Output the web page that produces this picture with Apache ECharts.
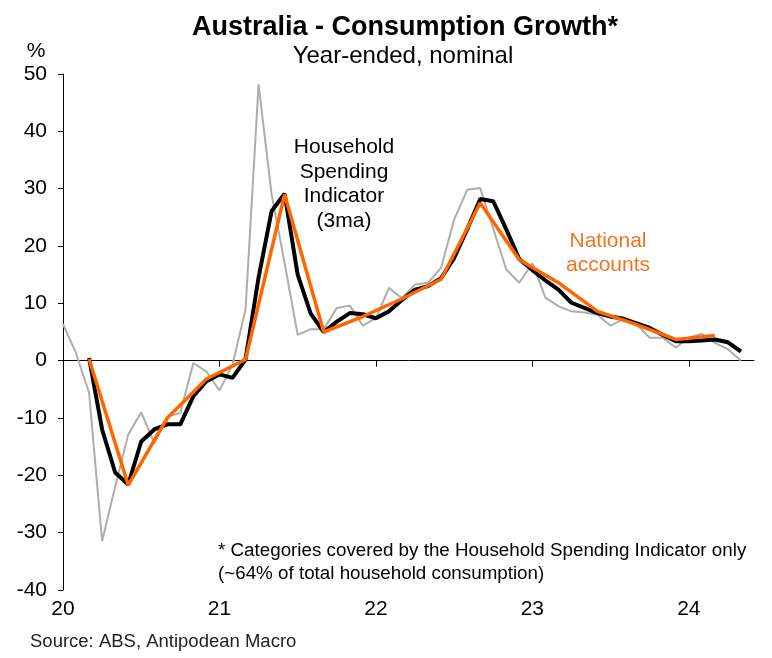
<!DOCTYPE html>
<html>
<head>
<meta charset="utf-8">
<script src="https://cdn.jsdelivr.net/npm/echarts@6/dist/echarts.min.js"></script>
<style>
html,body{margin:0;padding:0;background:#fff;}
#c{width:772px;height:658px;}
</style>
</head>
<body>
<div id="c"></div>
<script>
// Months Jan-2020 .. May-2024 (index 0 = Jan 2020)
var months = ['Jan20','Feb20','Mar20','Apr20','May20','Jun20','Jul20','Aug20','Sep20','Oct20','Nov20','Dec20',
  'Jan21','Feb21','Mar21','Apr21','May21','Jun21','Jul21','Aug21','Sep21','Oct21','Nov21','Dec21',
  'Jan22','Feb22','Mar22','Apr22','May22','Jun22','Jul22','Aug22','Sep22','Oct22','Nov22','Dec22',
  'Jan23','Feb23','Mar23','Apr23','May23','Jun23','Jul23','Aug23','Sep23','Oct23','Nov23','Dec23',
  'Jan24','Feb24','Mar24','Apr24','May24'];

// Household Spending Indicator, monthly (grey)
var hsiMonthly = [6.4,1.3,-5.6,-31.5,-22.0,-12.9,-9.0,-14.4,-9.8,-9.1,-0.4,-1.9,
  -5.2,-0.7,8.9,48.2,29.0,17.0,4.5,5.5,5.5,9.2,9.6,6.1,
  7.4,12.7,10.9,13.3,13.6,16.2,24.6,29.8,30.1,23.0,15.9,13.6,
  17.0,11.0,9.5,8.6,8.4,8.0,6.1,7.3,6.3,4.0,4.0,2.3,
  4.0,4.7,3.1,2.0,0.0];

// Household Spending Indicator, 3-month average (black)
var hsi3ma = [null,null,0.5,-12.0,-19.5,-21.6,-14.1,-12.0,-11.1,-11.1,-6.2,-3.6,
  -2.4,-3.0,0.2,14.5,26.1,29.1,15.0,8.2,5.0,6.8,8.3,8.1,
  7.4,8.6,10.6,12.4,13.0,14.4,17.9,22.9,28.2,27.8,22.9,17.7,
  15.8,14.0,12.4,10.1,9.2,8.3,7.7,7.3,6.5,5.7,4.5,3.4,
  3.4,3.5,3.7,3.2,1.6];

// National accounts, quarterly (orange) - placed at quarter-end months
var nationalAccounts = [null,null,0.3,null,null,-21.7,null,null,-10.0,null,null,-3.2,
  null,null,0.2,null,null,29.0,null,null,5.0,null,null,7.7,
  null,null,10.8,null,null,14.2,null,null,27.5,null,null,17.6,
  null,null,13.6,null,null,8.6,null,null,6.3,null,null,3.7,
  null,null,4.4,null,null];

var xTickValues = [0,12,24,36,48];
var xTickLabels = ['20','21','22','23','24'];

function pairs(arr){ return arr.map(function(v,i){ return [i, v]; }); }

var FONT = '"Liberation Sans", Arial, sans-serif';
var chart = echarts.init(document.getElementById('c'), null, {renderer:'canvas'});
chart.setOption({
  animation:false,
  backgroundColor:'#fff',
  textStyle:{fontFamily:FONT},
  grid:{left:63,right:18,top:74,bottom:68,containLabel:false},
  xAxis:[{
    type:'value', min:0, max:53, interval:12,
    axisLine:{onZero:true, lineStyle:{color:'#000',width:1}},
    axisTick:{show:true, length:6, customValues:xTickValues, lineStyle:{color:'#000'}},
    axisLabel:{show:false},
    splitLine:{show:false}
  },{
    type:'value', min:0, max:53, interval:12, position:'bottom',
    axisLine:{show:false, onZero:false},
    axisTick:{show:false},
    axisLabel:{show:true, customValues:xTickValues, margin:9, fontSize:21, color:'#000', fontFamily:FONT,
      formatter:function(v){ var k = xTickValues.indexOf(v); return k>=0 ? xTickLabels[k] : ''; }},
    splitLine:{show:false}
  }],
  yAxis:{
    type:'value', min:-40, max:50, interval:10,
    axisLine:{show:true, lineStyle:{color:'#000',width:1}},
    axisTick:{show:true, length:5, lineStyle:{color:'#000'}},
    axisLabel:{fontSize:21, color:'#000', margin:16, fontFamily:FONT},
    splitLine:{show:false}
  },
  series:[{
    name:'HSI monthly', type:'line', xAxisIndex:0, data:pairs(hsiMonthly),
    symbol:'none', lineStyle:{color:'#adadad', width:2}, z:2
  },{
    name:'HSI 3ma', type:'line', xAxisIndex:0, data:pairs(hsi3ma),
    symbol:'none', lineStyle:{color:'#000', width:4}, z:3
  },{
    name:'National accounts', type:'line', xAxisIndex:0, data:pairs(nationalAccounts), connectNulls:true,
    symbol:'none', lineStyle:{color:'#ff6600', width:3.5}, z:4
  }],
  graphic:[
    {type:'text', x:405, y:28, style:{text:'Australia - Consumption Growth*', font:'bold 27px '+FONT, fill:'#000', textAlign:'center', textVerticalAlign:'middle'}},
    {type:'text', x:403, y:56, style:{text:'Year-ended, nominal', font:'24px '+FONT, fill:'#000', textAlign:'center', textVerticalAlign:'middle'}},
    {type:'text', x:36, y:51, style:{text:'%', font:'21px '+FONT, fill:'#000', textAlign:'center', textVerticalAlign:'middle'}},
    {type:'text', x:344, y:184, style:{text:'Household\nSpending\nIndicator\n(3ma)', font:'21px '+FONT, lineHeight:24.5, fill:'#000', textAlign:'center', textVerticalAlign:'middle'}},
    {type:'text', x:608, y:253, style:{text:'National\naccounts', font:'21px '+FONT, lineHeight:24.5, fill:'#f47321', textAlign:'center', textVerticalAlign:'middle'}},
    {type:'text', x:218, y:562, style:{text:'* Categories covered by the Household Spending Indicator only\n(~64% of total household consumption)', font:'18.8px '+FONT, lineHeight:23, fill:'#000', textAlign:'left', textVerticalAlign:'middle'}},
    {type:'text', x:30, y:642, style:{text:'Source: ABS, Antipodean Macro', font:'18.5px '+FONT, fill:'#222', textAlign:'left', textVerticalAlign:'middle'}}
  ]
});
</script>
</body>
</html>
